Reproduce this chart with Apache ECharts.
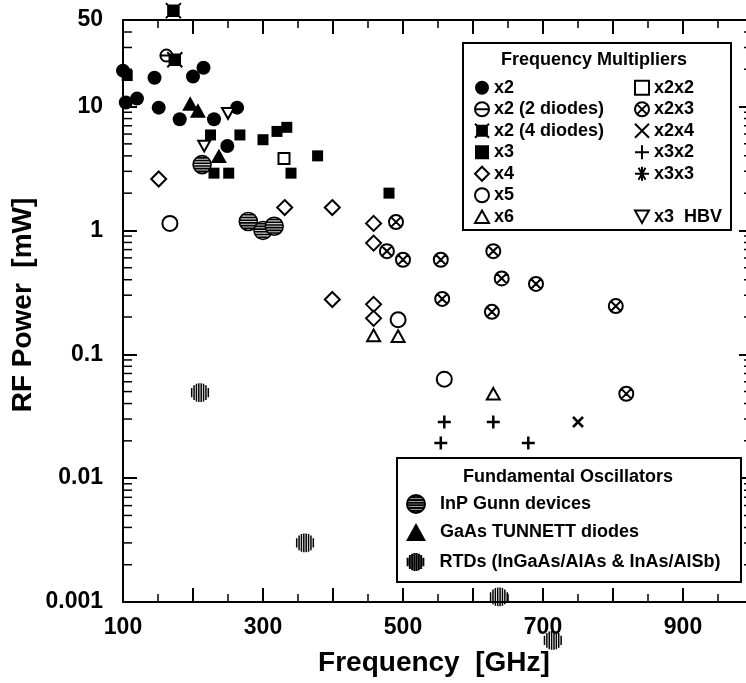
<!DOCTYPE html>
<html>
<head>
<meta charset="utf-8">
<script src="https://cdn.jsdelivr.net/npm/echarts@6/dist/echarts.min.js"></script>
<style>
  html, body { margin: 0; padding: 0; background: #fff; }
  #chart { width: 746px; height: 683px; }
</style>
</head>
<body>
<div id="chart"></div>
<script>
// values: [frequency GHz, RF power mW]
var x2 = [[100, 19.5], [104, 10.8], [120, 11.6], [145, 17.1], [151, 9.8], [181, 7.9],
          [200, 17.5], [215, 20.6], [230, 7.9], [249, 4.8], [263, 9.8]];
var x2TwoDiodes = [[162, 25.8]];
var x2FourDiodes = [[174, 23.9], [172, 59.5]];
var x3 = [[106, 17.8], [225, 5.9], [267, 5.9], [230, 2.9], [251, 2.9], [300, 5.4],
          [320, 6.3], [334, 6.8], [340, 2.9], [378, 4.0], [480, 2.0]];
var x4 = [[151, 2.6], [331, 1.53], [399, 1.53], [458, 1.14], [458, 0.79],
          [399, 0.277], [458, 0.253], [458, 0.195]];
var x5 = [[167, 1.14], [493, 0.19], [559, 0.063]];
var x6 = [[458, 0.142], [493, 0.14], [629, 0.048]];
var x2x2 = [[330, 3.8]];
var x2x3 = [[490, 1.17], [477, 0.68], [500, 0.58], [554, 0.58], [629, 0.68], [641, 0.41],
            [690, 0.37], [556, 0.28], [627, 0.22], [804, 0.245], [819, 0.048]];
var x2x4 = [[750, 0.0284]];
var x3x2 = [[559, 0.0284], [629, 0.0284], [554, 0.0192], [679, 0.0192]];
var x3x3 = [];
var x3Hbv = [[250, 8.8], [216, 4.8]];
var gunn = [[213, 3.4], [279, 1.18], [300, 1.0], [316, 1.08]];
var tunnett = [[196, 10.6], [207, 9.3], [237, 4.0]];
var rtd = [[210, 0.049], [360, 0.003], [637, 0.0011], [714, 0.00049]];

var xTickLabels = [100, 300, 500, 700, 900];
var yTickLabels = [0.001, 0.01, 0.1, 1, 10, 50];
var yMinorTicks = [0.002, 0.003, 0.004, 0.005, 0.006, 0.007, 0.008, 0.009,
                   0.02, 0.03, 0.04, 0.05, 0.06, 0.07, 0.08, 0.09,
                   0.2, 0.3, 0.4, 0.5, 0.6, 0.7, 0.8, 0.9,
                   2, 3, 4, 5, 6, 7, 8, 9, 20, 30, 40];

var FONT = '"Liberation Sans", Arial, sans-serif';

// symbol shapes (20x20 box)
var CIRCLE = 'M0,10A10,10,0,1,1,20,10A10,10,0,1,1,0,10Z';
var THETA = CIRCLE + 'M0,10L20,10';
var OTIMES = CIRCLE + 'M3,3L17,17M17,3L3,17';
var FOUR = 'M3,3L17,3L17,17L3,17ZM0,0L20,20M20,0L0,20';
var CROSS = 'M0,0L10,10M10,0L0,10';
var PLUS = 'M5,0L5,10M0,5L10,5';
var STAR = 'M0,10L20,10M5,1.3L15,18.7M15,1.3L5,18.7M10,0L10,20';
var TRI_UP = 'M10,0L20,18L0,18Z';
var TRI_DOWN = 'M0,0L20,0L10,18Z';

// striped circles drawn as chords
function chords(offsets, vertical, outline) {
  var p = outline ? CIRCLE : 'M0,0M20,20';
  offsets.forEach(function (d) {
    var h = Math.sqrt(100 - d * d).toFixed(2);
    var a = (10 + d).toFixed(2);
    p += vertical ? 'M' + a + ',' + (10 - h) + 'L' + a + ',' + (10 + +h)
                  : 'M' + (10 - h) + ',' + a + 'L' + (10 + +h) + ',' + a;
  });
  return p;
}
var GUNN = chords([-7.5, -4.5, -1.5, 1.5, 4.5, 7.5], false, true);
var RTD = chords([-8.75, -6.25, -3.75, -1.25, 1.25, 3.75, 6.25, 8.75], true, false);

function sc(name, data, symbol, size, fill, stroke, width) {
  return {
    name: name, type: 'scatter', data: data, clip: false,
    symbol: symbol, symbolSize: size, symbolKeepAspect: true,
    itemStyle: { color: fill, borderColor: stroke, borderWidth: width, opacity: 1 },
    emphasis: { disabled: true }
  };
}

var series = [
  sc('x2', x2, 'circle', 14, '#000', '#000', 0),
  sc('x2 (2 diodes)', x2TwoDiodes, 'path://' + THETA, 12, '#fff', '#000', 2),
  sc('x2 (4 diodes)', x2FourDiodes, 'path://' + FOUR, 15, '#000', '#000', 2),
  sc('x3', x3, 'rect', 11, '#000', '#000', 0),
  sc('x4', x4, 'diamond', 15, '#fff', '#000', 2),
  sc('x5', x5, 'circle', 15, '#fff', '#000', 2),
  sc('x6', x6, 'path://' + TRI_UP, 13, '#fff', '#000', 2),
  sc('x2x2', x2x2, 'rect', 11, '#fff', '#000', 2),
  sc('x2x3', x2x3, 'path://' + OTIMES, 14, '#fff', '#000', 2),
  sc('x2x4', x2x4, 'path://' + CROSS, 10, '#000', '#000', 2.5),
  sc('x3x2', x3x2, 'path://' + PLUS, 13, '#000', '#000', 2.5),
  sc('x3x3', x3x3, 'path://' + STAR, 15, '#000', '#000', 3),
  sc('x3  HBV', x3Hbv, 'path://' + TRI_DOWN, 12, '#fff', '#000', 2),
  sc('InP Gunn devices', gunn, 'path://' + GUNN, 18, '#ccc', '#000', 1.6),
  sc('GaAs TUNNETT diodes', tunnett, 'path://' + TRI_UP, 16, '#000', '#000', 0),
  sc('RTDs (InGaAs/AlAs & InAs/AlSb)', rtd, 'path://' + RTD, 19, 'none', '#000', 1.5)
];

// log minor ticks on both y axes
series.push({
  type: 'custom', silent: true, clip: false, z: 5,
  data: yMinorTicks.map(function (v) { return [v]; }),
  renderItem: function (params, api) {
    var v = api.value(0);
    var l = api.coord([100, v]);
    var r = api.coord([1000, v]);
    var st = { stroke: '#000', lineWidth: 1.5 };
    return {
      type: 'group',
      children: [
        { type: 'line', shape: { x1: l[0], y1: l[1], x2: l[0] + 9, y2: l[1] }, style: st },
        { type: 'line', shape: { x1: r[0], y1: r[1], x2: r[0] - 9, y2: r[1] }, style: st }
      ]
    };
  }
});

function legendBox(names, left, top, itemWidth, itemHeight, lineHeight) {
  return {
    data: names, orient: 'vertical', left: left, top: top, padding: 0,
    itemGap: 0, itemWidth: itemWidth, itemHeight: itemHeight, z: 6,
    selectedMode: false, symbolKeepAspect: true,
    textStyle: { fontSize: 18, fontWeight: 'bold', fontFamily: FONT, color: '#000', lineHeight: lineHeight }
  };
}

var axisBase = {
  axisLine: { onZero: false, lineStyle: { color: '#000', width: 2 } },
  axisTick: { inside: true, length: 14, lineStyle: { color: '#000', width: 2 } },
  splitLine: { show: false }
};

var labelFont = { fontSize: 23, fontWeight: 'bold', fontFamily: FONT, color: '#000' };
var nameFont = { fontSize: 28, fontWeight: 'bold', fontFamily: FONT, color: '#000' };

function xAxis(pos, labels) {
  return Object.assign({
    type: 'value', position: pos, min: 100, max: 1000, interval: 100,
    minorTick: { show: true, splitNumber: 2, length: 8, lineStyle: { color: '#000', width: 1.5 } },
    axisLabel: Object.assign({
      show: labels, margin: 14,
      formatter: function (v) { return xTickLabels.indexOf(v) >= 0 ? String(v) : ''; }
    }, labelFont),
    name: labels ? 'Frequency  [GHz]' : '', nameLocation: 'middle', nameGap: 47,
    nameTextStyle: Object.assign({ padding: [0, 8, 0, 0] }, nameFont)
  }, axisBase);
}

function yAxis(pos, labels) {
  return Object.assign({
    type: 'log', logBase: 10, position: pos, min: 0.001, max: 50,
    minorTick: { show: false },
    axisLabel: Object.assign({
      show: labels, margin: 20,
      formatter: function (v) {
        var best = yTickLabels[0];
        yTickLabels.forEach(function (t) {
          if (Math.abs(Math.log10(t) - Math.log10(v)) < Math.abs(Math.log10(best) - Math.log10(v))) best = t;
        });
        return String(best);
      }
    }, labelFont),
    name: labels ? 'RF Power  [mW]' : '', nameLocation: 'middle', nameGap: 86,
    nameMoveOverlap: false,
    nameTextStyle: Object.assign({ padding: [0, 0, 0, 12] }, nameFont)
  }, axisBase);
}

var chart = echarts.init(document.getElementById('chart'));
chart.setOption({
  animation: false,
  backgroundColor: '#fff',
  grid: { left: 123, right: -7, top: 20, bottom: 81, containLabel: false, outerBoundsMode: 'none' },
  xAxis: [xAxis('bottom', true), xAxis('top', false)],
  yAxis: [yAxis('left', true), yAxis('right', false)],
  legend: [
    legendBox(['x2', 'x2 (2 diodes)', 'x2 (4 diodes)', 'x3', 'x4', 'x5', 'x6'], 474, 77, 14, 14, 21.5),
    legendBox(['x2x2', 'x2x3', 'x2x4', 'x3x2', 'x3x3'], 634, 77, 14, 14, 21.5),
    legendBox(['x3  HBV'], 634, 206, 14, 14, 21.5),
    legendBox(['InP Gunn devices', 'GaAs TUNNETT diodes'], 406, 490, 38, 18, 28),
    legendBox(['RTDs (InGaAs/AlAs & InAs/AlSb)'], 404, 548, 38, 18, 28)
  ],
  graphic: [
    { type: 'rect', z: 3, shape: { x: 463, y: 43, width: 268, height: 187 },
      style: { fill: '#fff', stroke: '#000', lineWidth: 2 } },
    { type: 'text', z: 7, x: 594, y: 60,
      style: { text: 'Frequency Multipliers', font: 'bold 18px ' + FONT, fill: '#000', textAlign: 'center', textVerticalAlign: 'middle' } },
    { type: 'rect', z: 3, shape: { x: 397, y: 458, width: 344, height: 124 },
      style: { fill: '#fff', stroke: '#000', lineWidth: 2 } },
    { type: 'text', z: 7, x: 568, y: 477,
      style: { text: 'Fundamental Oscillators', font: 'bold 18px ' + FONT, fill: '#000', textAlign: 'center', textVerticalAlign: 'middle' } }
  ],
  series: series
});
</script>
</body>
</html>
